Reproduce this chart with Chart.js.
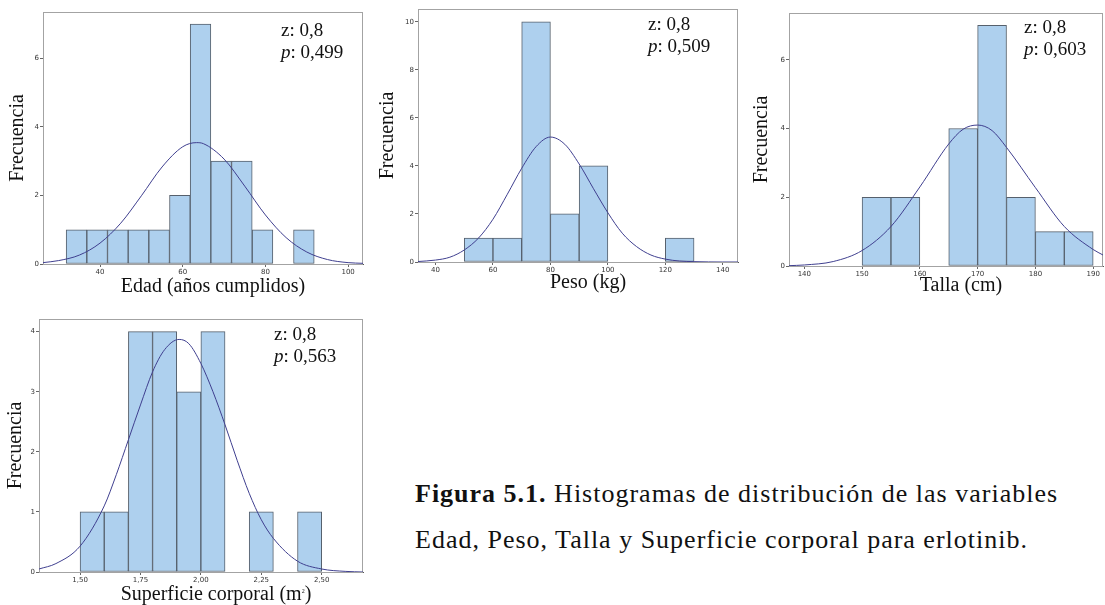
<!DOCTYPE html>
<html>
<head>
<meta charset="utf-8">
<script src="https://cdn.jsdelivr.net/npm/chart.js@4.4.1/dist/chart.umd.min.js"></script>
<style>
body{margin:0;width:1105px;height:605px;background:#fff;position:relative;overflow:hidden;font-family:"Liberation Serif",serif;color:#111;}
canvas{position:absolute;}
.xt{position:absolute;font-size:20px;line-height:22px;white-space:nowrap;transform:translate(-50%,-50%);}
.xt sup{font-size:6px;}
.zp{position:absolute;font-size:19px;line-height:22px;white-space:nowrap;}
.cap{position:absolute;left:415px;top:471px;font-size:26px;line-height:46px;letter-spacing:1px;white-space:nowrap;}
</style>
</head>
<body>
<canvas id="c1" width="370" height="300" style="left:0;top:0"></canvas>
<canvas id="c2" width="370" height="300" style="left:370px;top:0"></canvas>
<canvas id="c3" width="365" height="300" style="left:740px;top:0"></canvas>
<canvas id="c4" width="370" height="300" style="left:0;top:300px"></canvas>

<div class="xt" style="left:213px;top:285px">Edad (años cumplidos)</div>
<div class="xt" style="left:588px;top:281px">Peso (kg)</div>
<div class="xt" style="left:961px;top:284px">Talla (cm)</div>
<div class="xt" style="left:216px;top:592px">Superficie corporal (m<sup>2</sup>)</div>

<div class="zp" style="left:281px;top:19px">z: 0,8<br><i>p</i>: 0,499</div>
<div class="zp" style="left:648px;top:13px">z: 0,8<br><i>p</i>: 0,509</div>
<div class="zp" style="left:1024px;top:16px">z: 0,8<br><i>p</i>: 0,603</div>
<div class="zp" style="left:274px;top:323px">z: 0,8<br><i>p</i>: 0,563</div>

<div class="cap"><b>Figura 5.1.</b> Histogramas de distribución de las variables<br>Edad, Peso, Talla y Superficie corporal para erlotinib.</div>

<script>
const el = id => document.getElementById(id);

// Edad
const edadBins   = [34.3,39.3,44.3,49.3,54.3,59.3,64.3,69.3,74.3,79.3,84.3,89.3];
const edadCounts = [1,1,1,1,1,2,7,3,3,1,0,1];
const edadCurveX = [26.2,30,35,40,45,50,55,60,63.3,65,70,75,80,85,90,95,100,103.6];
const edadCurveY = [0.04,0.1,0.26,0.61,1.19,1.99,2.83,3.42,3.54,3.51,3.06,2.27,1.43,0.77,0.35,0.13,0.04,0.02];
const edadXTicks = [40,60,80,100];
const edadYTicks = [0,2,4,6];

// Peso
const pesoBins   = [55,65,75,85,95,105,115,125];
const pesoCounts = [1,1,10,2,4,0,0,1];
const pesoCurveX = [33.9,40,45,50,55,60,65,70,75,80,85,90,95,100,105,110,115,120,125,130,140,145.3];
const pesoCurveY = [0.02,0.08,0.2,0.5,1.0,1.78,2.82,3.9,4.8,5.2,4.9,4.08,3.05,2.05,1.2,0.64,0.29,0.12,0.04,0.015,0,0];
const pesoXTicks = [40,60,80,100,120,140];
const pesoYTicks = [0,2,4,6,8,10];

// Talla
const tallaBins   = [152.5,157.5,162.5,167.5,172.5,177.5,182.5,187.5];
const tallaCounts = [2,2,0,4,7,2,1,1];
const tallaCurveX = [137.35,140,145,150,155,160,165,167.5,170,172.5,175,180,185,190,191.7];
const tallaCurveY = [0.01,0.03,0.13,0.45,1.15,2.3,3.55,3.98,4.1,3.94,3.45,2.28,1.15,0.48,0.32];
const tallaXTicks = [140,150,160,170,180,190];
const tallaYTicks = [0,2,4,6];

// Superficie corporal
const scBins   = [1.55,1.65,1.75,1.85,1.95,2.05,2.15,2.25,2.35,2.45];
const scCounts = [1,1,4,4,3,4,0,1,0,1];
const scCurveX = [1.33,1.4,1.5,1.6,1.65,1.7,1.75,1.8,1.85,1.91,1.95,2.0,2.05,2.1,2.15,2.2,2.25,2.3,2.4,2.5,2.6,2.671];
const scCurveY = [0.05,0.14,0.43,1.1,1.62,2.2,2.78,3.33,3.7,3.87,3.8,3.47,3.0,2.45,1.86,1.31,0.87,0.56,0.18,0.05,0.01,0];
const scXTicks = [1.5,1.75,2,2.25,2.5];
const scXLabels = ["1,50","1,75","2,00","2,25","2,50"];
const scYTicks = [0,1,2,3,4];

const tickFont = {family:"DejaVu Sans", size:7};

// light frame round the plot area
const frame = {
  id:"frame",
  beforeDatasetsDraw(c){
    const a=c.chartArea, ctx=c.ctx;
    ctx.save();
    ctx.strokeStyle="#a3a3a3"; ctx.lineWidth=1;
    ctx.strokeRect(a.left+0.5, a.top+0.5, a.right-a.left-1, a.bottom-a.top);
    ctx.restore();
  }
};

function hist(id, o){
  new Chart(el(id), {
    type:"bar",
    data:{datasets:[
      {type:"line", data:o.cx.map((x,i)=>({x, y:o.cy[i]})), borderColor:"#3f3f8f", borderWidth:1,
       pointRadius:0, cubicInterpolationMode:"monotone", order:0},
      {data:o.bins.map((x,i)=>({x, y:o.counts[i]||null})), backgroundColor:"#aed0ee", borderColor:"#56606c",
       borderWidth:1, borderSkipped:false, barPercentage:1, categoryPercentage:1, order:1}
    ]},
    options:{
      responsive:false, animation:false,
      layout:{padding:{top:o.pad[0], right:o.pad[1], bottom:0, left:0}},
      plugins:{legend:{display:false}, tooltip:{enabled:false}},
      scales:{
        x:{type:"linear", min:o.xr[0], max:o.xr[1], offset:false,
           afterBuildTicks:s=>{ s.ticks=o.xt.map(v=>({value:v})); },
           afterFit:s=>{ s.height=o.xh; },
           ticks:{autoSkip:false, maxRotation:0, padding:1, font:tickFont, color:"#333",
                  callback:(v,i)=>o.xl ? o.xl[i] : v},
           grid:{drawOnChartArea:false, tickLength:3, color:"#666", offset:false},
           border:{color:"#555"}},
        y:{min:0, max:o.ymax,
           afterBuildTicks:s=>{ s.ticks=o.yt.map(v=>({value:v})); },
           afterFit:s=>{ s.width=o.yw; },
           ticks:{autoSkip:false, padding:1, font:tickFont, color:"#333"},
           grid:{drawOnChartArea:false, tickLength:3, color:"#666"},
           border:{color:"#555"},
           title:{display:true, text:"Frecuencia", color:"#111",
                  font:{family:"Liberation Serif", size:20}, padding:{top:o.tp, bottom:0}}}
      }
    },
    plugins:[frame]
  });
}

hist("c1",{bins:edadBins, counts:edadCounts, cx:edadCurveX, cy:edadCurveY, xr:[26.2,103.6], ymax:7.35,
  xt:edadXTicks, yt:edadYTicks, pad:[12,7], yw:43, xh:36, tp:6});
hist("c2",{bins:pesoBins, counts:pesoCounts, cx:pesoCurveX, cy:pesoCurveY, xr:[33.9,145.3], ymax:10.53,
  xt:pesoXTicks, yt:pesoYTicks, pad:[9,2], yw:48, xh:38, tp:6});
hist("c3",{bins:tallaBins, counts:tallaCounts, cx:tallaCurveX, cy:tallaCurveY, xr:[137.35,191.7], ymax:7.36,
  xt:tallaXTicks, yt:tallaYTicks, pad:[13,2], yw:49, xh:34, tp:10});
hist("c4",{bins:scBins, counts:scCounts, cx:scCurveX, cy:scCurveY, xr:[1.33,2.671], ymax:4.21,
  xt:scXTicks, xl:scXLabels, yt:scYTicks, pad:[19,7], yw:39, xh:28, tp:4});
</script>
</body>
</html>
